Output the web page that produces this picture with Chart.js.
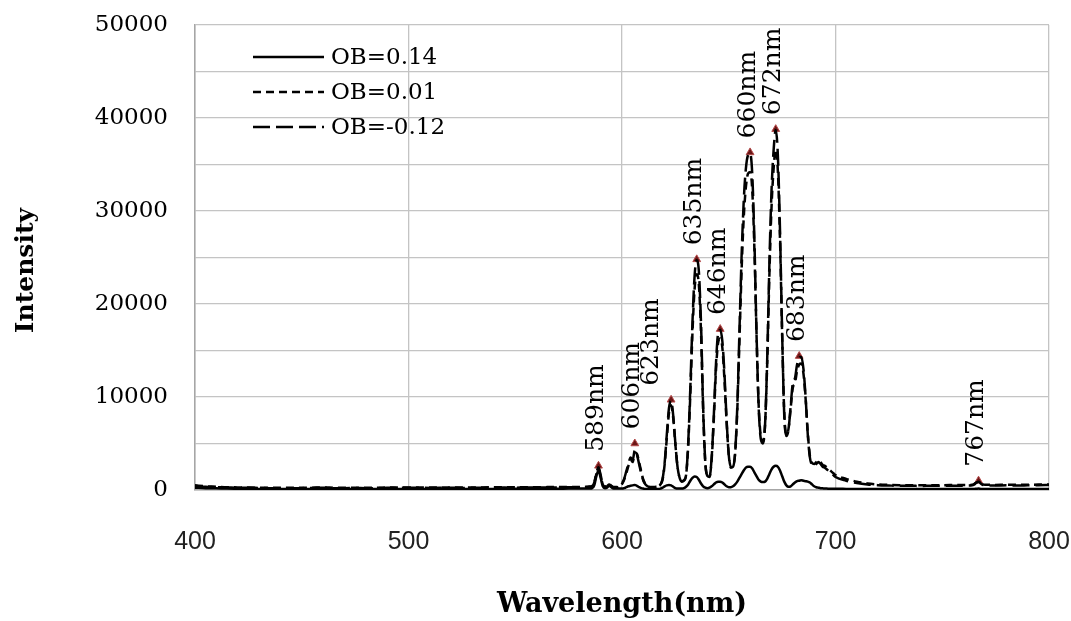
<!DOCTYPE html>
<html>
<head>
<meta charset="utf-8">
<script src="https://cdn.jsdelivr.net/npm/chart.js@4/dist/chart.umd.min.js"></script>
<style>
  body { margin: 0; background: #fff; }
  #wrap { width: 1071px; height: 621px; }
</style>
</head>
<body>
<div id="wrap"><canvas id="espectro"></canvas></div>
<script>
// longitud de onda (nm)
const wavelength = [
  400,405,410,415,420,425,430,435,440,445,450,455,460,465,470,475,480,485,490,495,
  500,505,510,515,520,525,530,535,540,545,550,555,560,565,570,575,
  580,581,582,583,584,585,586,587,588,589,590,591,592,593,594,595,596,597,598,599,
  600,601,602,603,604,605,606,607,608,609,610,611,612,613,614,615,616,617,618,619,
  620,621,622,623,624,625,626,627,628,629,630,631,632,633,634,635,636,637,638,639,
  640,641,642,643,644,645,646,647,648,649,650,651,652,653,654,655,656,657,658,659,
  660,661,662,663,664,665,666,667,668,669,670,671,672,673,674,675,676,677,678,679,
  680,681,682,683,684,685,686,687,688,689,690,691,692,693,694,695,696,697,698,699,
  700,
  705,710,715,720,725,730,735,740,745,750,755,760,764,765,766,767,768,769,770,
  775,780,785,790,795,800
];

// OB=0.14 (linea continua)
const ob014 = [
  250,200,180,150,140,130,120,120,110,110,110,120,130,120,110,110,110,110,120,120,
  120,120,110,110,120,120,120,120,120,130,130,130,130,140,140,150,
  150,150,150,150,150,150,200,500,1500,2100,1300,400,200,250,450,300,150,150,150,150,
  150,200,300,400,450,500,550,450,300,200,150,120,120,120,120,120,120,120,150,250,
  400,500,550,500,350,200,150,150,150,200,350,600,1000,1300,1450,1400,1100,700,400,250,
  200,250,400,600,800,900,900,800,600,400,300,300,400,600,900,1300,1700,2100,2400,2500,
  2500,2300,1900,1500,1100,900,850,900,1200,1700,2200,2500,2600,2500,2100,1500,900,500,350,400,
  600,800,950,1000,1050,1000,950,900,800,600,400,300,250,200,180,160,150,130,130,130,
  130,
  120,110,100,100,100,100,100,100,100,100,100,100,100,110,130,150,120,100,100,
  100,100,100,100,100,100
];

// OB=0.01 (guiones cortos)
const ob001 = [
  500,400,350,300,280,260,250,240,230,230,240,250,270,250,240,250,250,240,260,270,
  270,260,270,270,280,270,280,280,290,290,300,300,300,310,320,330,
  330,330,330,340,350,380,420,750,1700,2300,1500,600,380,450,650,450,330,330,330,420,
  650,1100,1800,2600,3300,3000,4000,3900,3000,2000,1100,650,420,330,330,330,360,420,600,1100,
  2800,5600,8300,9100,7700,4900,2500,1300,950,1050,1600,4700,10300,16900,21600,23200,22100,17000,8600,3000,
  1600,1500,3300,7600,12800,15800,16300,15300,11800,7300,3800,2500,2600,4000,8600,16000,23500,29200,32500,34000,
  34200,32300,26000,16800,9200,5800,5200,7000,13500,22800,30200,34500,36600,34300,27000,16800,8300,6000,6600,8800,
  11000,11500,12800,13500,13600,12500,9800,6200,3700,2900,2800,3000,3200,3000,2700,2600,2400,2200,2000,1800,
  1600,
  1200,900,700,600,550,520,520,510,520,520,530,540,560,650,800,850,700,600,560,
  550,560,560,570,580,600
];

// OB=-0.12 (guiones largos)
const obm012 = [
  450,350,300,280,250,250,220,200,200,180,200,220,250,200,200,220,200,200,250,220,
  250,250,220,230,250,220,250,230,250,260,250,270,260,280,280,300,
  300,300,300,300,320,350,400,800,1800,2450,1600,600,350,400,600,400,300,300,300,400,
  700,1200,2000,2800,3500,3200,4300,3800,2800,1800,1000,600,400,300,300,300,350,400,600,1200,
  3000,6000,8800,9600,8000,5000,2500,1300,900,1000,1600,5000,11000,18000,23000,24700,23500,18000,9000,3000,
  1500,1400,3500,8000,13500,16800,17200,16000,12500,7500,3800,2400,2500,4000,9000,17000,25000,31000,34500,36000,
  36200,34000,27000,17000,9000,5500,5000,7000,14000,24000,32000,36500,38700,36000,28000,17000,8000,5800,6500,9000,
  11500,12000,13500,14200,14300,13000,10000,6000,3500,2700,2600,2800,3000,2800,2500,2400,2200,2000,1800,1600,
  1400,
  1000,750,600,520,480,450,450,440,450,450,460,470,500,600,800,900,700,550,500,
  480,500,480,500,520,550
];

// picos marcados
const peakNm = [589, 606, 623, 635, 646, 660, 672, 683, 767];
const peakVal = [2600, 5000, 9700, 24800, 17300, 36300, 38800, 14400, 1000];
const peakLabels = peakNm.map(n => n + 'nm');

const xTicks = [400, 500, 600, 700, 800];
const yTicks = [0, 10000, 20000, 30000, 40000, 50000];

const serif = "'DejaVu Serif', serif";

function puntos(serie) {
  return wavelength.map((w, i) => ({ x: w, y: serie[i] }));
}

// leyenda dibujada dentro del area
const leyenda = {
  id: 'leyenda',
  afterDraw(chart) {
    const ctx = chart.ctx;
    ctx.save();
    chart.data.datasets.forEach((ds, i) => {
      if (ds.sinLeyenda) return;
      const y = 57 + i * 35;
      ctx.strokeStyle = '#000';
      ctx.lineWidth = 2.5;
      ctx.setLineDash(ds.borderDash || []);
      ctx.beginPath();
      ctx.moveTo(253, y);
      ctx.lineTo(324, y);
      ctx.stroke();
      ctx.setLineDash([]);
      ctx.fillStyle = '#000';
      ctx.font = '23px ' + serif;
      ctx.textBaseline = 'middle';
      ctx.fillText(ds.label, 331, y + 1);
    });
    ctx.restore();
  }
};

// etiquetas verticales de los picos
const etiquetas = {
  id: 'etiquetas',
  afterDatasetsDraw(chart) {
    const ctx = chart.ctx;
    const sx = chart.scales.x, sy = chart.scales.y;
    ctx.save();
    ctx.fillStyle = '#000';
    ctx.font = '25px ' + serif;
    ctx.textBaseline = 'middle';
    ctx.textAlign = 'left';
    peakNm.forEach((n, i) => {
      let px = sx.getPixelForValue(n) - 2;
      if (n === 623) px -= 18;
      const py = sy.getPixelForValue(peakVal[i]) - 14;
      ctx.save();
      ctx.translate(px, py);
      ctx.rotate(-Math.PI / 2);
      ctx.fillText(peakLabels[i], 0, 0);
      ctx.restore();
    });
    ctx.restore();
  }
};

const ctx = document.getElementById('espectro');
const grafica = new Chart(ctx, {
  type: 'line',
  data: {
    datasets: [{
      label: 'OB=0.14',
      data: puntos(ob014),
      borderColor: '#000',
      borderWidth: 2.5,
      pointRadius: 0,
      cubicInterpolationMode: 'monotone'
    }, {
      label: 'OB=0.01',
      data: puntos(ob001),
      borderColor: '#000',
      borderWidth: 2.5,
      borderDash: [8, 5],
      pointRadius: 0,
      cubicInterpolationMode: 'monotone'
    }, {
      label: 'OB=-0.12',
      data: puntos(obm012),
      borderColor: '#000',
      borderWidth: 2.5,
      borderDash: [17, 6],
      pointRadius: 0,
      cubicInterpolationMode: 'monotone'
    }, {
      label: 'picos',
      sinLeyenda: true,
      data: peakNm.map((n, i) => ({ x: n, y: peakVal[i] })),
      showLine: false,
      pointStyle: 'triangle',
      pointRadius: 4.5,
      backgroundColor: '#6b1616',
      borderColor: '#b44a4a',
      borderWidth: 1
    }]
  },
  options: {
    responsive: true,
    maintainAspectRatio: false,
    animation: false,
    layout: { padding: { top: 25, right: 22, left: 0, bottom: 0 } },
    plugins: {
      legend: { display: false },
      tooltip: { enabled: false }
    },
    scales: {
      x: {
        type: 'linear',
        min: 400,
        max: 800,
        afterBuildTicks: s => { s.ticks = xTicks.map(v => ({ value: v })); },
        afterFit: s => { s.height = 131; s.paddingLeft = 0; s.paddingRight = 0; },
        grid: { color: '#c4c4c4', lineWidth: 1.3, drawTicks: false },
        border: { color: '#a6a6a6', width: 1.5 },
        ticks: {
          padding: 37,
          color: '#222',
          font: { family: "'Liberation Sans', sans-serif", size: 25 }
        },
        title: {
          display: true,
          text: 'Wavelength(nm)',
          color: '#000',
          padding: { top: 0, bottom: 0 },
          font: { family: serif, size: 27, weight: 'bold' }
        }
      },
      y: {
        min: 0,
        max: 50000,
        ticks: {
          stepSize: 5000,
          padding: 27,
          color: '#000',
          font: { family: serif, size: 23 },
          callback: v => (yTicks.includes(v) ? String(v) : '')
        },
        afterFit: s => { s.width = 195; s.paddingTop = 0; s.paddingBottom = 0; },
        grid: { color: '#c4c4c4', lineWidth: 1.3, drawTicks: false },
        border: { color: '#a6a6a6', width: 1.5 },
        title: {
          display: true,
          text: 'Intensity   ',
          color: '#000',
          padding: { top: 11, bottom: 0 },
          font: { family: serif, size: 25, weight: 'bold' }
        }
      }
    }
  },
  plugins: [leyenda, etiquetas]
});
</script>
</body>
</html>
